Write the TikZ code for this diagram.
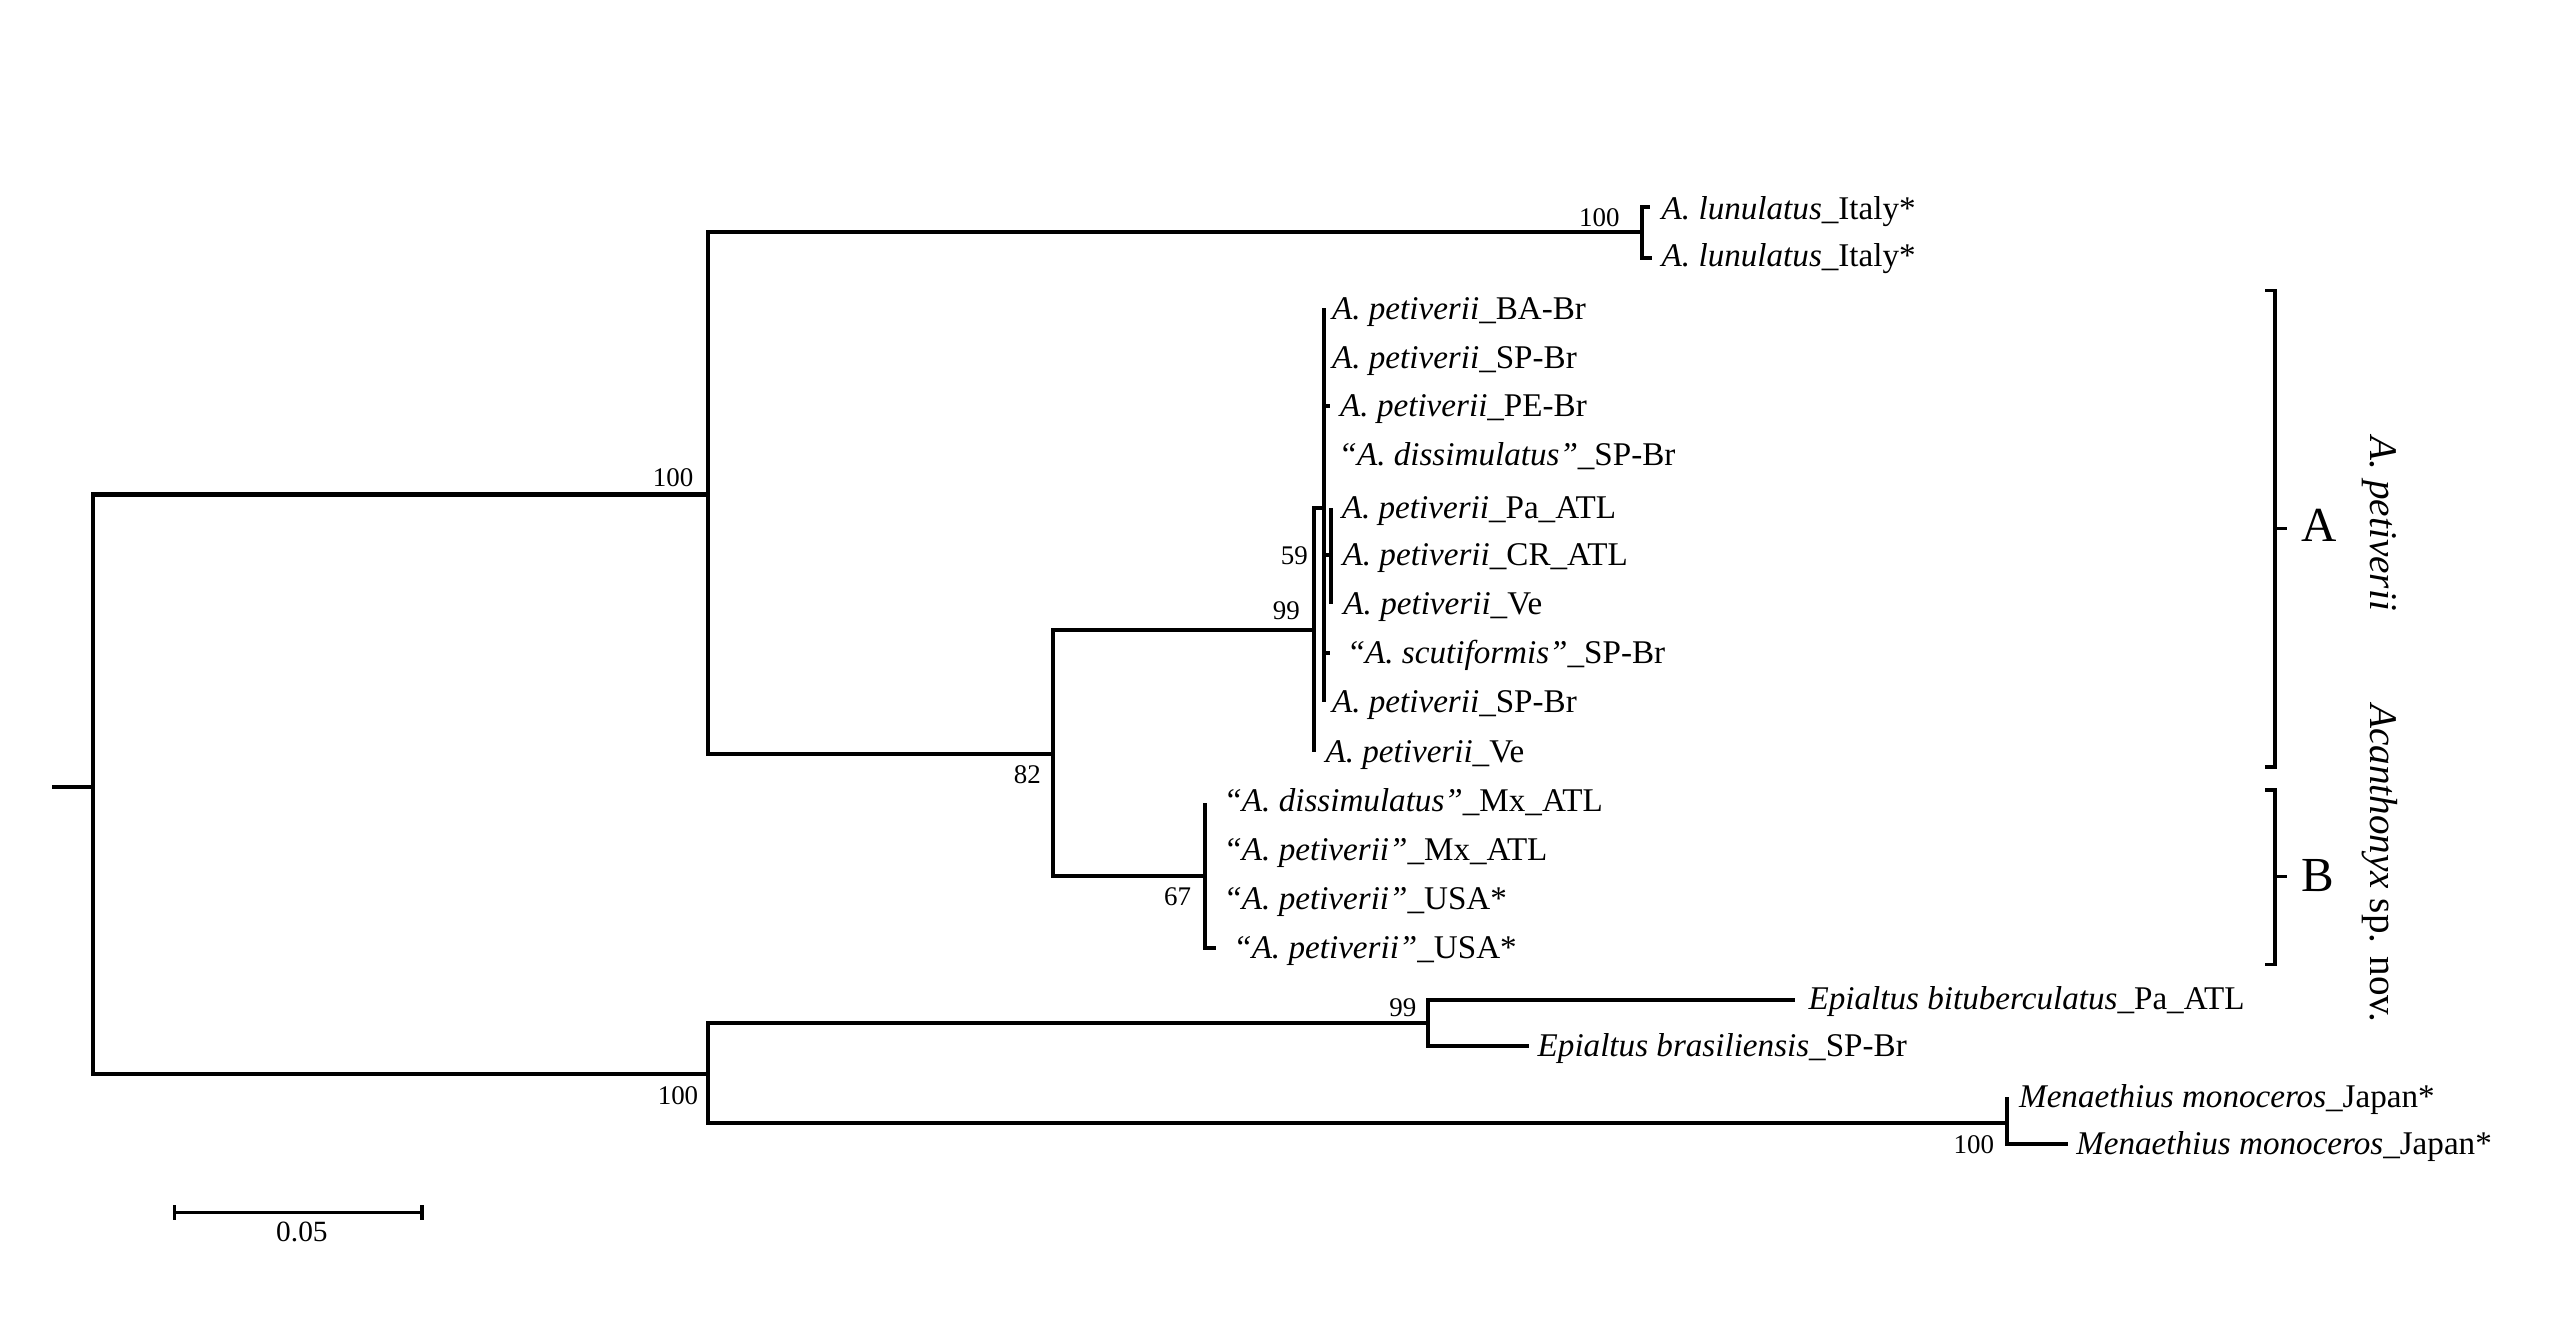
\documentclass[tikz,border=0pt]{standalone}
\usepackage{fontspec}
\setmainfont{Liberation Serif}
\begin{document}
\begin{tikzpicture}[x=1pt,y=-1pt,
  br/.style={line width=2.5pt},
  brk/.style={line width=2pt},
  tip/.style={anchor=base west,inner sep=0pt,font=\fontsize{20.3}{24}\selectfont},
  bs/.style={anchor=base east,inner sep=0pt,font=\fontsize{16.5}{20}\selectfont},
  clade/.style={anchor=base,inner sep=0pt,font=\fontsize{30}{34}\selectfont},
  side/.style={rotate=-90,inner sep=0pt,font=\fontsize{24}{28}\selectfont}]
\useasboundingbox (0,0) rectangle (1568,819);
% ---------- internal nodes ----------
\coordinate (r0) at (32,482);
\coordinate (root) at (57,482);
\coordinate (n1) at (434,303);
\coordinate (n5) at (434,658);
\coordinate (nL) at (1006,142);
\coordinate (n2) at (645,462);
\coordinate (n3) at (805,386);
\coordinate (nI) at (811,311);
\coordinate (n59) at (815.6,340);
\coordinate (nB) at (738.5,537);
\coordinate (nE) at (875,627);
\coordinate (nM) at (1230,688);
% ---------- tips ----------
\coordinate (tL1) at (1011,127);
\coordinate (tL2) at (1012,158);
\coordinate (tBA) at (811,189);
\coordinate (tSP1) at (811,219);
\coordinate (tPE) at (815,249);
\coordinate (tDis) at (811,279);
\coordinate (tPa) at (815.6,311);
\coordinate (tCR) at (815.6,340);
\coordinate (tVe1) at (815.6,370);
\coordinate (tScu) at (815,400);
\coordinate (tSP2) at (811,430);
\coordinate (tVe2) at (805,461);
\coordinate (tDMx) at (738.5,492);
\coordinate (tPMx) at (738.5,521);
\coordinate (tU1) at (738.5,551);
\coordinate (tU2) at (745,581);
\coordinate (tBit) at (1100,613);
\coordinate (tBra) at (937,641);
\coordinate (tM1) at (1230,672);
\coordinate (tM2) at (1267,701);
% ---------- branches ----------
\draw[br] (r0) -- (root);
\draw[br] (root) |- (n1);
\draw[br] (root) |- (n5);
\draw[br] (n1) |- (nL);
\draw[br] (n1) |- (n2);
\draw[br] (nL) |- (tL1);
\draw[br] (nL) |- (tL2);
\draw[br] (n2) |- (n3);
\draw[br] (n2) |- (nB);
\draw[br] (n3) |- (nI);
\draw[br] (n3) |- (tVe2);
\draw[br] (nI) |- (tBA);
\draw[br] (nI) |- (tSP1);
\draw[br] (nI) |- (tPE);
\draw[br] (nI) |- (tDis);
\draw[br] (nI) |- (n59);
\draw[br] (nI) |- (tScu);
\draw[br] (nI) |- (tSP2);
\draw[br] (n59) |- (tPa);
\draw[br] (n59) |- (tCR);
\draw[br] (n59) |- (tVe1);
\draw[br] (nB) |- (tDMx);
\draw[br] (nB) |- (tPMx);
\draw[br] (nB) |- (tU1);
\draw[br] (nB) |- (tU2);
\draw[br] (n5) |- (nE);
\draw[br] (n5) |- (nM);
\draw[br] (nE) |- (tBit);
\draw[br] (nE) |- (tBra);
\draw[br] (nM) |- (tM1);
\draw[br] (nM) |- (tM2);
% ---------- tip labels ----------
\node[tip] (lL1) at (1018,134.5) {\textit{A. lunulatus}\_Italy*};
\node[tip] (lL2) at (1018,163.5) {\textit{A. lunulatus}\_Italy*};
\node[tip] (lBA) at (816,195.5) {\textit{A. petiverii}\_BA-Br};
\node[tip] (lSP1) at (816,225.5) {\textit{A. petiverii}\_SP-Br};
\node[tip] (lPE) at (821,255.5) {\textit{A. petiverii}\_PE-Br};
\node[tip] (lDis) at (820,285.5) {\textit{“A. dissimulatus”}\_SP-Br};
\node[tip] (lPa) at (822,317.5) {\textit{A. petiverii}\_Pa\_ATL};
\node[tip] (lCR) at (822.5,346.5) {\textit{A. petiverii}\_CR\_ATL};
\node[tip] (lVe1) at (823,376.5) {\textit{A. petiverii}\_Ve};
\node[tip] (lScu) at (825,406.5) {\textit{“A. scutiformis”}\_SP-Br};
\node[tip] (lSP2) at (816,436.5) {\textit{A. petiverii}\_SP-Br};
\node[tip] (lVe2) at (812,467.5) {\textit{A. petiverii}\_Ve};
\node[tip] (lDMx) at (749.5,497.5) {\textit{“A. dissimulatus”}\_Mx\_ATL};
\node[tip] (lPMx) at (749.5,527.5) {\textit{“A. petiverii”}\_Mx\_ATL};
\node[tip] (lU1) at (749.5,557.5) {\textit{“A. petiverii”}\_USA*};
\node[tip] (lU2) at (755.5,587.5) {\textit{“A. petiverii”}\_USA*};
\node[tip] (lBit) at (1108,618.5) {\textit{Epialtus bituberculatus}\_Pa\_ATL};
\node[tip] (lBra) at (942,647.5) {\textit{Epialtus brasiliensis}\_SP-Br};
\node[tip] (lM1) at (1237,678.5) {\textit{Menaethius monoceros}\_Japan*};
\node[tip] (lM2) at (1272,707.5) {\textit{Menaethius monoceros}\_Japan*};
% ---------- bootstrap values ----------
\node[bs] (b1) at (425,298) {100};
\node[bs] (b2) at (992.5,138.5) {100};
\node[bs] (b3) at (801.5,345.8) {59};
\node[bs] (b4) at (796.6,379.8) {99};
\node[bs] (b5) at (638,479.8) {82};
\node[bs] (b6) at (730,555) {67};
\node[bs] (b7) at (868,623) {99};
\node[bs] (b8) at (428,677) {100};
\node[bs] (b9) at (1222,707) {100};
% ---------- clade brackets ----------
\draw[brk] (1388,178) -- (1394,178) -- (1394,470) -- (1388,470);
\draw[brk] (1394,324) -- (1401.5,324);
\draw[brk] (1388,484) -- (1394,484) -- (1394,591) -- (1388,591);
\draw[brk] (1394,537) -- (1401.5,537);
\node[clade] (cA) at (1421,332) {A};
\node[clade] (cB) at (1420,546) {B};
\node[side] (sA) at (1458,321) {\textit{A. petiverii}};
\node[side] (sB) at (1458,529) {\textit{Acanthonyx} sp. nov.};
% ---------- scale bar ----------
\coordinate (sb1) at (107,743);
\coordinate (sb2) at (258.5,743);
\draw[line width=2.2pt] (sb1) -- (sb2);
\draw[line width=2.2pt] ([yshift=-4.5pt]sb1) -- ([yshift=4.5pt]sb1);
\draw[line width=2.2pt] ([yshift=-4.5pt]sb2) -- ([yshift=4.5pt]sb2);
\node[anchor=base,inner sep=0pt,font=\fontsize{18}{22}\selectfont] (sbl) at (185,760.8) {0.05};
\end{tikzpicture}
\end{document}
